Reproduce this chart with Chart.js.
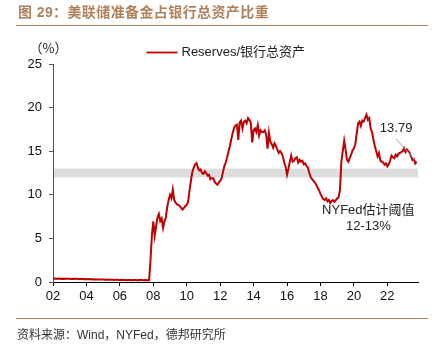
<!DOCTYPE html>
<html><head><meta charset="utf-8">
<script src="https://cdn.jsdelivr.net/npm/chart.js@4"></script>
<style>
body{margin:0;background:#fff;overflow:hidden}
#wrap{position:relative;width:435px;height:360px;background:#fff}
canvas{position:absolute;left:0;top:0}
.title{position:absolute;left:18px;top:5px;font:bold 14px/15px "Liberation Sans","Noto Sans CJK SC",sans-serif;color:#b0805a;white-space:nowrap;letter-spacing:0.4px}
.rule{position:absolute;left:16px;width:412px;height:0;border-top:1.5px solid #a97d57}
.src{position:absolute;left:17px;top:328px;font:12px/14px "Liberation Sans","Noto Sans CJK SC",sans-serif;color:#333;white-space:nowrap}
</style></head>
<body><div id="wrap">
<canvas id="c" width="435" height="360"></canvas>
<div class="title">图 29：美联储准备金占银行总资产比重</div>
<div class="rule" style="top:24.5px"></div>
<div class="rule" style="top:317.5px"></div>
<div class="src">资料来源：Wind，NYFed，德邦研究所</div>
</div>
<script>
// ---- data ----
const seriesName = 'Reserves/银行总资产';
const startYear = 2002;           // first month: 2002-01, monthly
const values = [
 0.38,0.42,0.36,0.40,0.37,0.39,0.35,0.38,0.36,0.40,0.37,0.36,
 0.38,0.35,0.37,0.34,0.36,0.38,0.33,0.35,0.34,0.36,0.33,0.35,
 0.32,0.34,0.31,0.33,0.30,0.32,0.29,0.31,0.30,0.28,0.30,0.29,
 0.28,0.27,0.29,0.26,0.27,0.25,0.27,0.26,0.24,0.26,0.25,0.24,
 0.23,0.25,0.22,0.24,0.23,0.21,0.23,0.22,0.24,0.21,0.22,0.23,
 0.21,0.23,0.20,0.25,0.22,0.21,0.24,0.20,0.22,0.21,2.5,5.4,
 6.95,5.3,6.4,7.4,7.8,7.0,7.3,6.2,6.95,7.4,8.6,9.4,
 10.0,9.6,10.6,9.4,9.1,8.9,8.85,8.7,8.5,8.3,8.5,8.7,
 8.85,9.2,10.5,11.6,12.6,13.1,13.5,13.65,13.1,12.8,12.9,12.5,
 12.4,12.7,12.5,12.2,12.3,11.8,11.9,11.9,11.5,11.3,11.15,11.4,
 11.6,11.9,12.6,13.3,13.7,14.3,15.0,15.6,16.4,17.1,17.7,17.95,
 18.05,16.3,18.3,18.5,17.6,18.4,18.5,18.2,18.8,18.6,18.2,16.0,
 17.4,17.6,17.2,18.0,16.8,17.4,17.2,17.2,17.4,16.9,15.3,17.1,
 16.1,15.8,15.4,15.9,15.6,15.2,14.8,15.0,14.8,14.4,13.7,13.2,
 12.3,13.0,13.8,14.5,13.8,13.9,14.2,14.3,13.7,14.0,13.8,13.9,
 13.5,13.6,13.3,13.1,12.5,12.0,11.8,11.6,11.4,11.15,10.8,10.5,
 10.1,9.8,9.5,9.4,9.6,9.25,9.4,9.05,9.3,9.4,9.2,9.4,
 9.6,9.7,10.6,13.8,15.0,16.2,15.2,14.0,13.8,14.2,14.6,15.1,
 15.3,15.8,17.0,18.2,18.4,17.9,18.5,18.4,18.8,19.2,18.6,18.8,
 17.6,17.2,16.3,15.6,15.0,14.4,14.8,13.9,13.8,13.7,13.45,13.6,
 13.25,13.5,13.9,14.5,14.3,14.2,14.6,14.4,14.7,14.8,14.9,15.0,
 15.35,14.9,15.2,15.0,14.8,14.4,14.0,14.1,13.6,13.79
];
const tickLabels = ['02','04','06','08','10','12','14','16','18','20','22'];
const yTicks = [0,5,10,15,20,25];
const bandRange = [12,13];
const lastLabel = '13.79';
const bandNote = ['NYFed估计阈值','12-13%'];

const months = values.map((_, i) => `${startYear + Math.floor(i/12)}-${String(i%12+1).padStart(2,'0')}`);
const points = values.map((v, i) => ({x: i, y: v}));
const tickPos = tickLabels.map((_, k) => k*24);

const FONT = '"Liberation Sans","Noto Sans CJK SC",sans-serif';

const decor = {
  id: 'decor',
  beforeDatasetsDraw(chart) {
    const {ctx, chartArea: a, scales: {y}} = chart;
    const top = y.getPixelForValue(bandRange[1]);
    const bot = y.getPixelForValue(bandRange[0]);
    ctx.save();
    ctx.fillStyle = '#dddddd';
    ctx.fillRect(a.left + 1, top, a.right - a.left - 1, bot - top);
    ctx.restore();
  },
  afterDraw(chart) {
    const {ctx, scales: {x, y}} = chart;
    ctx.save();
    // legend
    ctx.strokeStyle = '#c00000'; ctx.lineWidth = 1.8;
    ctx.beginPath(); ctx.moveTo(146.5, 52.5); ctx.lineTo(177.5, 52.5); ctx.stroke();
    ctx.fillStyle = '#222'; ctx.font = '13px ' + FONT;
    ctx.textBaseline = 'middle'; ctx.textAlign = 'left';
    ctx.fillText(chart.data.datasets[0].label, 181.5, 52.5);
    // unit
    ctx.textAlign = 'center';
    ctx.font = '13px "Noto Sans CJK SC",' + FONT;
    ctx.fillText('（%）', 48.5, 48.5);
    // last value annotation
    const li = values.length - 1;
    const px = x.getPixelForValue(li), py = y.getPixelForValue(values[li]);
    ctx.strokeStyle = '#a0a0a0'; ctx.lineWidth = 1;
    ctx.beginPath(); ctx.moveTo(px - 20.5, py - 22.8); ctx.lineTo(px, py); ctx.stroke();
    ctx.font = '13px ' + FONT; ctx.fillStyle = '#222';
    ctx.fillText(lastLabel, px - 20.5, py - 33.6);
    // band note
    ctx.fillText(bandNote[0], 368.3, 210.8);
    ctx.fillText(bandNote[1], 368.3, 226.8);
    ctx.restore();
  }
};

new Chart(document.getElementById('c'), {
  type: 'line',
  data: {
    labels: months,
    datasets: [{
      label: seriesName,
      data: points,
      borderColor: '#c00000',
      borderWidth: 2,
      pointRadius: 0,
      tension: 0,
      fill: false
    }]
  },
  options: {
    responsive: false,
    animation: false,
    devicePixelRatio: 1,
    layout: {padding: {left: 0, right: 17, top: 64, bottom: 48}},
    plugins: {legend: {display: false}, tooltip: {enabled: false}},
    scales: {
      x: {
        type: 'linear', min: 0, max: 262,
        afterFit(s) { s.height = 30; },
        afterBuildTicks(s) { s.ticks = tickPos.map(v => ({value: v})); },
        grid: {drawOnChartArea: false, drawTicks: true, tickLength: 4, color: '#000'},
        border: {color: '#000', width: 1},
        ticks: {
          autoSkip: false, maxRotation: 0, padding: 3,
          color: '#111', font: {family: FONT, size: 13},
          callback: (v) => tickLabels[tickPos.indexOf(v)] ?? ''
        }
      },
      y: {
        min: 0, max: 25,
        afterFit(s) { s.width = 53; },
        afterBuildTicks(s) { s.ticks = yTicks.map(v => ({value: v})); },
        grid: {drawOnChartArea: false, drawTicks: true, tickLength: 4, color: '#555'},
        border: {color: '#555', width: 1},
        ticks: {padding: 7, color: '#111', font: {family: FONT, size: 13}}
      }
    }
  },
  plugins: [decor]
});
</script>
</body></html>
